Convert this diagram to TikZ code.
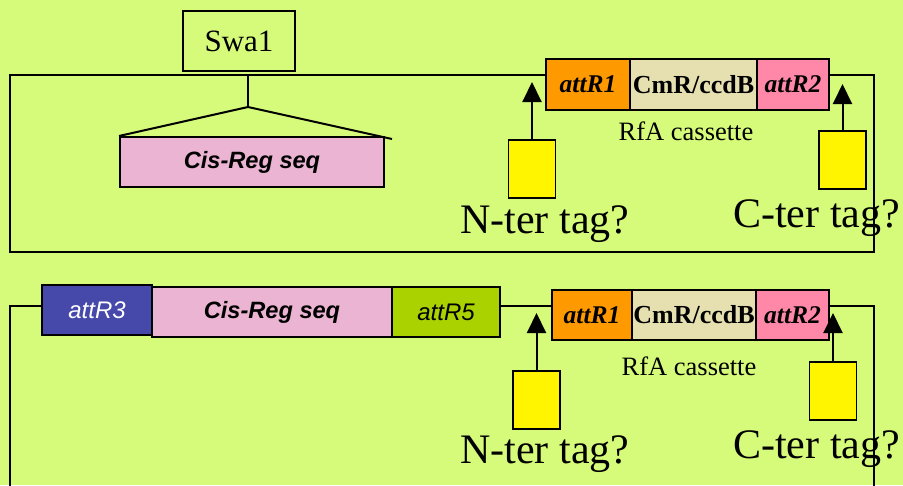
\documentclass[tikz,border=0pt]{standalone}
\usepackage{fontspec}
\setmainfont{Liberation Serif}
\setsansfont{Liberation Sans}
\usetikzlibrary{arrows.meta}
\definecolor{bg}{RGB}{214,250,122}
\definecolor{orangeR}{RGB}{255,153,0}
\definecolor{beigeC}{RGB}{230,224,176}
\definecolor{pinkR}{RGB}{255,136,168}
\definecolor{pinkCis}{RGB}{234,180,210}
\definecolor{blueR}{RGB}{70,72,170}
\definecolor{greenR}{RGB}{170,210,0}
\definecolor{tagY}{RGB}{255,245,0}
\newcommand{\fsz}[1]{\fontsize{#1}{#1}\selectfont}
\begin{document}
\begin{tikzpicture}[x=1pt,y=-1pt,
  seg/.style={draw=black, line width=2pt, inner sep=0pt, minimum height=51pt},
  tagbox/.style={draw=black, line width=1.6pt, fill=tagY, inner sep=0pt,
    minimum width=47pt, minimum height=58pt},
  wire/.style={line width=2pt, line join=miter},
  tagarrow/.style={line width=2pt, -{Triangle[width=19pt,length=20pt]}},
  serifbi/.style={font=\fsz{25.5}\bfseries\itshape},
  serifb/.style={font=\fsz{26}\bfseries},
  sansbi/.style={font=\fsz{23.6}\sffamily\bfseries\itshape},
  sansi/.style={font=\fsz{24}\sffamily\itshape},
  caption/.style={font=\fsz{26.5}, inner sep=0pt, anchor=base},
  question/.style={font=\fsz{42}, inner sep=0pt, anchor=base west}]
\fill[bg] (0,0) rectangle (903,485);
\useasboundingbox (0,0) rectangle (903,485);

% ---------- upper construct ----------
\node[draw=black, line width=2pt, minimum width=112pt, minimum height=60pt,
  inner sep=0pt, font=\fsz{31}] (swa) at (239,41) {Swa1};
\node[seg, fill=pinkCis, minimum width=264pt, minimum height=50pt, sansbi]
  (cis1) at (252,162) {Cis-Reg seq};
\node[seg, fill=orangeR, minimum width=84pt, serifbi] (r1a) at (588,84.5) {attR1};
\node[seg, fill=beigeC, minimum width=127pt, serifb] (cmra) at (693.5,84.5) {CmR/ccdB};
\node[seg, fill=pinkR, minimum width=72pt, serifbi] (r2a) at (793,84.5) {attR2};
\node[caption] (rfa1) at (686,140) {RfA cassette};

\coordinate (tl1) at (10,75);
\coordinate (bl1) at (10,252);
\coordinate (br1) at (874,252);
\coordinate (tr1) at (874,75);
\draw[wire] (r1a.west |- tl1) -- (tl1) -- (bl1) -- (br1) -- (tr1) -- (r2a.east |- tr1);

% Swa1 insertion site
\coordinate (stemtop) at (248,75);
\coordinate (stembot) at (248,107);
\coordinate (flareR) at (392,139);
\draw[line width=2pt] (stemtop) -- (stembot);
\draw[line width=2pt] (cis1.north west) -- (stembot) -- (flareR);

\node[tagbox] (ntag1) at (532,169) {};
\node[tagbox] (ctag1) at (842.5,160) {};
\coordinate (ntip1) at (532,82);
\coordinate (ctip1) at (842.5,84);
\draw[tagarrow] (ntag1.north) -- (ntip1);
\draw[tagarrow] (ctag1.north) -- (ctip1);
\node[question] (nq1) at (460,233) {N-ter tag?};
\node[question] (cq1) at (733,227) {C-ter tag?};
\draw[wire] (tr1) -- (br1);

% ---------- lower construct ----------
\node[seg, fill=blueR, minimum width=110pt, minimum height=50pt, sansi,
  text=white] (r3) at (97,310) {attR3};
\node[seg, fill=pinkCis, minimum width=240pt, minimum height=50pt, sansbi]
  (cis2) at (272,312) {Cis-Reg seq};
\node[seg, fill=greenR, minimum width=108pt, minimum height=50pt, sansi]
  (r5) at (446,312) {attR5};
\node[seg, fill=orangeR, minimum width=80pt, minimum height=50pt, serifbi]
  (r1b) at (592,315) {attR1};
\node[seg, fill=beigeC, minimum width=124pt, minimum height=50pt, serifb]
  (cmrb) at (694,315) {CmR/ccdB};
\node[seg, fill=pinkR, minimum width=73pt, minimum height=50pt, serifbi]
  (r2b) at (792.5,315) {attR2};
\node[caption] (rfa2) at (689,375) {RfA cassette};

\coordinate (tl2) at (10,306);
\coordinate (bl2) at (10,490);
\coordinate (tr2) at (874,306);
\coordinate (br2) at (874,490);
\draw[wire] (r3.west |- tl2) -- (tl2) -- (bl2);
\draw[wire] (r5.east |- tl2) -- (r1b.west |- tl2);

\node[tagbox] (ntag2) at (536.5,400) {};
\node[tagbox] (ctag2) at (833,391) {};
\coordinate (ntip2) at (536.5,313);
\coordinate (ctip2) at (833,313);
\draw[tagarrow] (ntag2.north) -- (ntip2);
\draw[tagarrow] (ctag2.north) -- (ctip2);
\node[question] (nq2) at (460,463) {N-ter tag?};
\node[question] (cq2) at (733,458) {C-ter tag?};
\draw[wire] (r2b.east |- tr2) -- (tr2) -- (br2);
\end{tikzpicture}
\end{document}
